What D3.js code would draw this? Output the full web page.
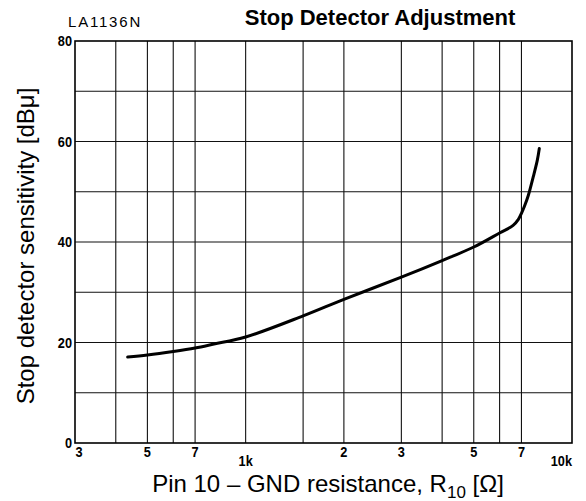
<!DOCTYPE html>
<html>
<head>
<meta charset="utf-8">
<script src="https://cdn.jsdelivr.net/npm/d3@7"></script>
<style>
  html, body { margin: 0; padding: 0; background: #fff; }
  svg { display: block; }
</style>
</head>
<body>
<svg id="chart" width="586" height="501"></svg>
<script>
// Stop detector sensitivity versus pin 10 to GND resistance
const resistance = [435, 500, 600, 700, 800, 1000, 1500, 2000, 3000, 4000, 5000, 6000, 6600, 6850, 7000, 7150, 7350, 7610, 7830, 7940];
const sensitivity = [17.1, 17.5, 18.2, 18.9, 19.7, 21.1, 25.3, 28.6, 33.0, 36.3, 39.0, 41.8, 43.3, 44.5, 45.7, 47.1, 49.3, 53.0, 56.3, 58.6];

const xGrid = [400, 500, 600, 700, 1000, 1500, 2000, 3000, 4000, 5000, 6000, 7000];
const yGrid = [10, 20, 30, 40, 50, 60, 70];
const xTickValues = [300, 500, 700, 1000, 2000, 3000, 5000, 7000, 10000];
const xTickLabels = ["3", "5", "7", "1k", "2", "3", "5", "7", "10k"];
const yTickValues = [0, 20, 40, 60, 80];

const svg = d3.select("#chart");
const plotLeft = 75, plotRight = 572, plotTop = 41, plotBottom = 443;
const font = "Liberation Sans, Arial, Helvetica, sans-serif";

const x = d3.scaleLog().domain([300, 10000]).range([plotLeft, plotRight]);
const y = d3.scaleLinear().domain([0, 80]).range([plotBottom, plotTop]);

// grid
const grid = svg.append("g").attr("stroke", "#111").attr("stroke-width", 1.1);
grid.selectAll("line.v").data(xGrid).join("line")
  .attr("class", "v")
  .attr("x1", d => x(d)).attr("x2", d => x(d))
  .attr("y1", plotTop).attr("y2", plotBottom);
grid.selectAll("line.h").data(yGrid).join("line")
  .attr("class", "h")
  .attr("y1", d => y(d)).attr("y2", d => y(d))
  .attr("x1", plotLeft).attr("x2", plotRight);

// frame
svg.append("rect")
  .attr("x", plotLeft).attr("y", plotTop)
  .attr("width", plotRight - plotLeft).attr("height", plotBottom - plotTop)
  .attr("fill", "none").attr("stroke", "#000").attr("stroke-width", 1.6);

// curve
const line = d3.line()
  .x((d, i) => x(resistance[i]))
  .y(d => y(d))
  .curve(d3.curveCatmullRom.alpha(0.5));
svg.append("path")
  .datum(sensitivity)
  .attr("d", line)
  .attr("fill", "none")
  .attr("stroke", "#000")
  .attr("stroke-width", 3)
  .attr("stroke-linecap", "round")
  .attr("stroke-linejoin", "round");

// y tick labels (narrow bold digits)
svg.append("g").selectAll("text").data(yTickValues).join("text")
  .attr("transform", d => `translate(${plotLeft - 3},${y(d) + 5}) scale(0.85,1)`)
  .attr("text-anchor", "end")
  .attr("font-family", font)
  .attr("font-weight", "bold")
  .attr("font-size", 15)
  .text(d => d);

// x tick labels; decade labels sit lower
svg.append("g").selectAll("text").data(xTickValues).join("text")
  .attr("transform", (d, i) => {
    const px = i === 0 ? x(d) + 4 : x(d);
    const py = xTickLabels[i].endsWith("k") ? 466 : 457;
    return `translate(${px},${py}) scale(0.85,1)`;
  })
  .attr("text-anchor", (d, i) => i === xTickValues.length - 1 ? "end" : "middle")
  .attr("font-family", font)
  .attr("font-weight", "bold")
  .attr("font-size", 15)
  .text((d, i) => xTickLabels[i]);

// titles
svg.append("text")
  .attr("x", 380).attr("y", 25)
  .attr("text-anchor", "middle")
  .attr("font-family", font)
  .attr("font-weight", "bold")
  .attr("font-size", 22)
  .text("Stop Detector Adjustment");

svg.append("text")
  .attr("x", 68).attr("y", 27)
  .attr("font-family", font)
  .attr("font-size", 15)
  .attr("letter-spacing", 1.8)
  .text("LA1136N");

const xt = svg.append("text")
  .attr("x", 328).attr("y", 492)
  .attr("text-anchor", "middle")
  .attr("font-family", font)
  .attr("font-size", 24);
xt.append("tspan").text("Pin 10 \u2013 GND resistance, R");
xt.append("tspan").attr("font-size", 17).attr("dy", 6).text("10");
xt.append("tspan").attr("dy", -6).text(" [\u03A9]");

svg.append("text")
  .attr("transform", "translate(34,246) rotate(-90)")
  .attr("text-anchor", "middle")
  .attr("font-family", font)
  .attr("font-size", 24)
  .text("Stop detector sensitivity [dB\u03BC]");
</script>
</body>
</html>
